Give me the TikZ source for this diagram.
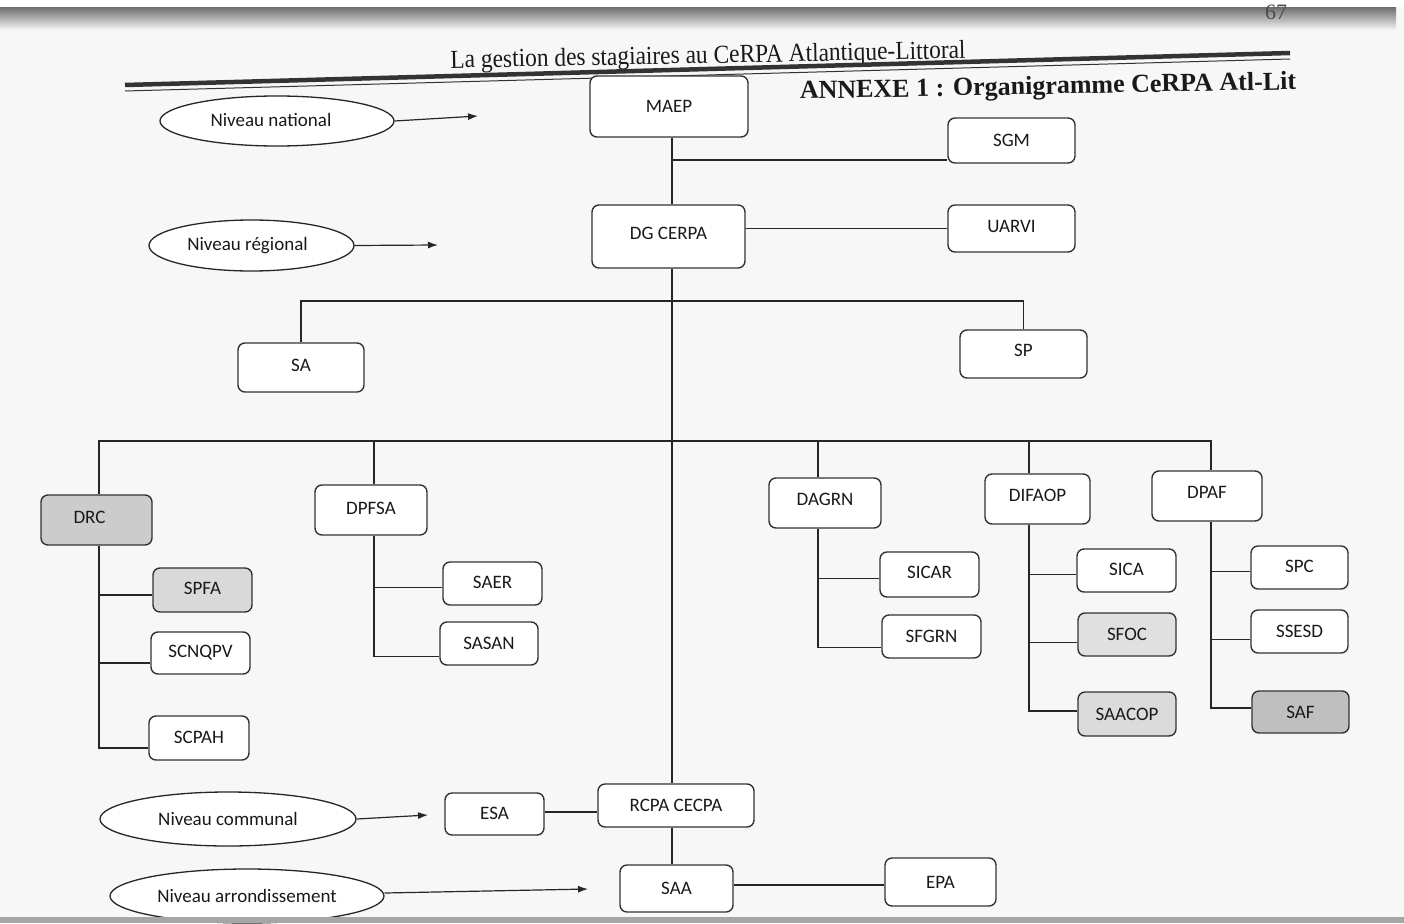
\documentclass[tikz,border=0pt]{standalone}
\usepackage{fontspec}
\setmainfont{Liberation Serif}
\newfontfamily\boxfont{Carlito}
\usetikzlibrary{shapes.geometric,arrows.meta,calc}
% #1 fill, #2 name, #3 x1, #4 y1, #5 x2, #6 y2, #7 text, #8 raise
\newcommand\OrgBox[8][white]{%
  \node[box, fill=#1, minimum width={#5-#3}, minimum height={#6-#4}] (#2) at ({(#3+#5)/2},{(#4+#6)/2}) {\raisebox{#8pt}{#7}};}
\begin{document}
\begin{tikzpicture}[x=1pt,y=-1pt,
  box/.style={draw=black!80, line width=1.4pt, rounded corners=7pt, inner sep=0pt,
    font=\boxfont\fontsize{19}{22}\selectfont, text=black!90},
  lvl/.style={ellipse, draw=black!85, line width=1.3pt, fill=white, inner sep=0pt,
    font=\boxfont\fontsize{19}{22}\selectfont, text=black!90},
  conn/.style={draw=black!85, line width=1.2pt},
  arr/.style={conn, -{Latex[length=10pt,width=7pt]}}]
\useasboundingbox (0,0) rectangle (1404,923);
% page background and scan edge
\fill[black!3] (0,0) rectangle (1404,923);
\fill[white] (0,0) rectangle (1404,7);
\shade[top color=black!55, bottom color=black!3] (0,8) rectangle (1396,30);

% header
\node[font=\fontsize{22}{26}\selectfont, text=black!70] (pg) at (1276,12) {67};
\node[font=\fontsize{26}{30}\selectfont, rotate=1.1, xscale=0.9, text=black!90] (hdr) at (708,57) {La gestion des stagiaires au CeRPA Atlantique-Littoral};
\draw[line width=4.5pt, black!80] (125,85) -- (1290,53);
\draw[line width=1pt, black!80] (125,91) -- (1290,59);
\node[font=\bfseries\fontsize{26}{30}\selectfont, rotate=1.1, text=black!90] (annexe) at (1048,88) {ANNEXE 1 : Organigramme CeRPA Atl-Lit};

% boxes
\OrgBox{MAEP}{590}{76}{748}{137}{MAEP}{0}
\OrgBox{SGM}{948}{118}{1075}{163}{SGM}{0}
\OrgBox{DG}{592}{205}{745}{268}{DG CERPA}{6}
\OrgBox{UARVI}{948}{205}{1075}{252}{UARVI}{5}
\OrgBox{SA}{238}{343}{364}{392}{SA}{5}
\OrgBox{SP}{960}{330}{1087}{378}{SP}{8}
\OrgBox[black!20]{DRC}{41}{495}{152}{545}{DRC\hspace{14pt}}{6}
\OrgBox{DPFSA}{315}{485}{427}{535}{DPFSA}{3}
\OrgBox[black!15]{SPFA}{153}{568}{252}{612}{SPFA}{3}
\OrgBox{SCNQPV}{151}{632}{250}{674}{SCNQPV}{0}
\OrgBox{SCPAH}{149}{716}{249}{760}{SCPAH}{1}
\OrgBox{SAER}{443}{562}{542}{605}{SAER}{3}
\OrgBox{SASAN}{440}{622}{538}{665}{SASAN}{0}
\OrgBox{DAGRN}{769}{478}{881}{528}{DAGRN}{7}
\OrgBox{SICAR}{880}{552}{979}{597}{SICAR}{4}
\OrgBox{SFGRN}{882}{615}{981}{658}{SFGRN}{0}
\OrgBox{DIFAOP}{985}{474}{1090}{524}{DIFAOP}{7}
\OrgBox{SICA}{1077}{549}{1176}{592}{SICA}{3}
\OrgBox[black!12]{SFOC}{1078}{613}{1176}{656}{SFOC}{1}
\OrgBox[black!14]{SAACOP}{1078}{692}{1176}{736}{SAACOP}{-3}
\OrgBox{DPAF}{1152}{471}{1262}{521}{DPAF}{7}
\OrgBox{SPC}{1251}{546}{1348}{589}{SPC}{3}
\OrgBox{SSESD}{1251}{610}{1348}{653}{SSESD}{0}
\OrgBox[black!25]{SAF}{1252}{691}{1349}{733}{SAF}{-3}
\OrgBox{ESA}{445}{793}{544}{835}{ESA}{1}
\OrgBox{RCPA}{598}{784}{754}{827}{RCPA CECPA}{-3}
\OrgBox{SAA}{620}{865}{733}{912}{SAA}{-1}
\OrgBox{EPA}{885}{858}{996}{906}{EPA}{-3}

% level ellipses
\node[lvl, minimum width=234, minimum height=50] (Nnat) at (277,121) {\raisebox{2pt}{Niveau national\hspace{12pt}}};
\node[lvl, minimum width=205, minimum height=51] (Nreg) at (251.5,245.5) {\raisebox{4pt}{Niveau régional\hspace{8pt}}};
\node[lvl, minimum width=256, minimum height=54] (Ncom) at (228,819) {Niveau communal\hspace{4pt}};
\node[lvl, minimum width=274, minimum height=54] (Narr) at (247,896) {\raisebox{-3pt}{Niveau arrondissement}};
\coordinate (eNat) at (478,116);
\coordinate (eReg) at (438,245);
\coordinate (eCom) at (428,815);
\coordinate (eArr) at (588,889);
\draw[arr] (Nnat.east) -- (eNat);
\draw[arr] (Nreg.east) -- (eReg);
\draw[arr] (Ncom.east) -- (eCom);
\draw[arr] (Narr.east |- 0,893) -- (eArr);

% spine
\coordinate (spine) at (672,0);
\draw[conn] (MAEP.south -| spine) -- (DG.north -| spine);
\draw[conn] (DG.south -| spine) -- (RCPA.north -| spine);
\draw[conn] (RCPA.south -| spine) -- (SAA.north -| spine);
\coordinate (bSGM) at (672,160);
\draw[conn] (bSGM) -- (bSGM -| SGM.west);
\draw[conn] (DG.east |- UARVI.west) -- (UARVI.west);

% bus 1 : SA, SP
\coordinate (bus1) at (0,301);
\draw[conn] (SA.north) -- (SA.north |- bus1) -- (SP.north |- bus1) -- (SP.north);

% bus 2 : directions
\coordinate (bus2) at (0,441);
\coordinate (xDRC) at (99,0);
\coordinate (xDPFSA) at (374,0);
\coordinate (xDAGRN) at (818,0);
\coordinate (xDIFAOP) at (1029,0);
\coordinate (xDPAF) at (1211,0);
\draw[conn] (xDRC |- DRC.north) -- (xDRC |- bus2) -- (xDPAF |- bus2) -- (xDPAF |- DPAF.north);
\draw[conn] (xDPFSA |- bus2) -- (xDPFSA |- DPFSA.north);
\draw[conn] (xDAGRN |- bus2) -- (xDAGRN |- DAGRN.north);
\draw[conn] (xDIFAOP |- bus2) -- (xDIFAOP |- DIFAOP.north);

% DRC subtree
\draw[conn] (xDRC |- DRC.south) -- ([yshift=-10pt]xDRC |- SCPAH.west) -- ([yshift=-10pt]SCPAH.west);
\draw[conn] ([yshift=-5pt]xDRC |- SPFA.west) -- ([yshift=-5pt]SPFA.west);
\draw[conn] ([yshift=-10pt]xDRC |- SCNQPV.west) -- ([yshift=-10pt]SCNQPV.west);
% DPFSA subtree
\draw[conn] (xDPFSA |- DPFSA.south) -- ([yshift=-13pt]xDPFSA |- SASAN.west) -- ([yshift=-13pt]SASAN.west);
\draw[conn] ([yshift=-4pt]xDPFSA |- SAER.west) -- ([yshift=-4pt]SAER.west);
% DAGRN subtree
\draw[conn] (xDAGRN |- DAGRN.south) -- ([yshift=-11pt]xDAGRN |- SFGRN.west) -- ([yshift=-11pt]SFGRN.west);
\draw[conn] ([yshift=-4pt]xDAGRN |- SICAR.west) -- ([yshift=-4pt]SICAR.west);
% DIFAOP subtree
\draw[conn] (xDIFAOP |- DIFAOP.south) -- ([yshift=3pt]xDIFAOP |- SAACOP.west) -- ([yshift=3pt]SAACOP.west);
\draw[conn] ([yshift=-4pt]xDIFAOP |- SICA.west) -- ([yshift=-4pt]SICA.west);
\draw[conn] ([yshift=-8pt]xDIFAOP |- SFOC.west) -- ([yshift=-8pt]SFOC.west);
% DPAF subtree
\draw[conn] (xDPAF |- DPAF.south) -- ([yshift=4pt]xDPAF |- SAF.west) -- ([yshift=4pt]SAF.west);
\draw[conn] ([yshift=-4pt]xDPAF |- SPC.west) -- ([yshift=-4pt]SPC.west);
\draw[conn] ([yshift=-8pt]xDPAF |- SSESD.west) -- ([yshift=-8pt]SSESD.west);

% communal / arrondissement links
\draw[conn] (ESA.east |- 0,812) -- (RCPA.west |- 0,812);
\draw[conn] (SAA.east |- 0,885) -- (EPA.west |- 0,885);

% bottom scan edge
\fill[black!35] (0,917) rectangle (1404,923);
\end{tikzpicture}
\end{document}
